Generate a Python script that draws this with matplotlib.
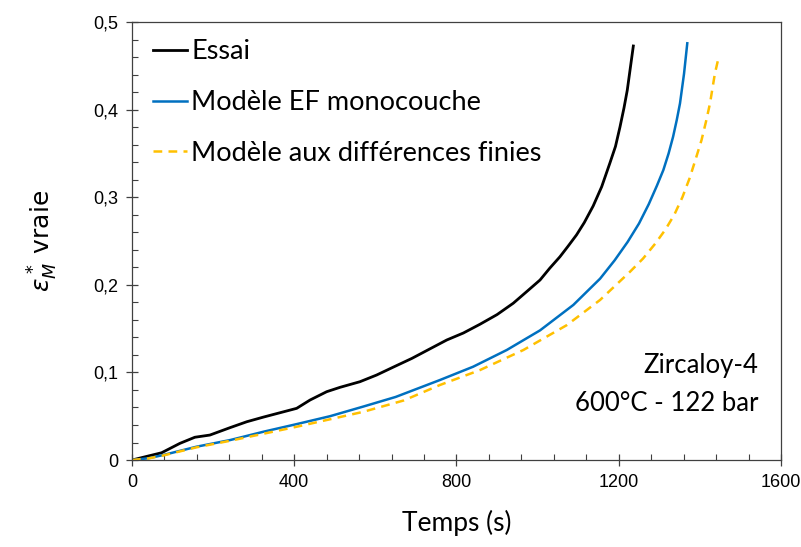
import numpy as np
import matplotlib
matplotlib.use("Agg")
import matplotlib.pyplot as plt
from matplotlib.ticker import MultipleLocator, FuncFormatter

# data (time in s, true strain)
essai_t = [0, 35, 73, 118, 155, 192, 242, 283, 324, 365, 406, 439, 480, 513, 562, 603,
           644, 690, 735, 776, 817, 858, 900, 940, 975, 1006, 1030, 1055, 1075, 1096,
           1115, 1137, 1158, 1178, 1192, 1203, 1213, 1221, 1229, 1236]
essai_eps = [0, 0.004, 0.0083, 0.019, 0.026, 0.0285, 0.037, 0.0437, 0.049, 0.054, 0.059,
             0.0685, 0.078, 0.083, 0.0894, 0.097, 0.106, 0.116, 0.127, 0.137, 0.145,
             0.155, 0.166, 0.179, 0.193, 0.2055, 0.219, 0.232, 0.244, 0.257, 0.271,
             0.290, 0.312, 0.3387, 0.358, 0.380, 0.402, 0.422, 0.449, 0.4726]

ef_t = [0, 40, 77, 159, 242, 324, 406, 488, 570, 650, 759, 841, 924, 1006, 1088, 1154,
        1190, 1222, 1250, 1274, 1294, 1310, 1323, 1334, 1343, 1351, 1361, 1369]
ef_eps = [0, 0.002, 0.0057, 0.0152, 0.0228, 0.0323, 0.041, 0.050, 0.061, 0.072, 0.0913,
          0.1065, 0.1256, 0.148, 0.177, 0.207, 0.228, 0.249, 0.270, 0.292, 0.313, 0.331,
          0.350, 0.369, 0.388, 0.407, 0.441, 0.4757]

df_t = [0, 40, 77, 159, 242, 324, 406, 488, 570, 670, 759, 858, 965, 1072, 1154, 1228,
        1260, 1290, 1315, 1337, 1357, 1375, 1390, 1404, 1415, 1425, 1437, 1447]
df_eps = [0, 0.0018, 0.0052, 0.0145, 0.022, 0.030, 0.038, 0.0465, 0.055, 0.068, 0.0856,
          0.1027, 0.1256, 0.154, 0.1827, 0.215, 0.230, 0.247, 0.263, 0.280, 0.300,
          0.322, 0.344, 0.365, 0.386, 0.407, 0.441, 0.461]

labels = ["Essai", "Modèle EF monocouche", "Modèle aux différences finies"]

fig = plt.figure(figsize=(8.01, 5.47), dpi=100)
ax = fig.add_axes([0.1648, 0.159, 0.8102, 0.8008])

ax.plot(essai_t, essai_eps, color="black", lw=2.0, label=labels[0])
ax.plot(ef_t, ef_eps, color="#0070C0", lw=1.8, label=labels[1])
ax.plot(df_t, df_eps, color="#FFC000", lw=1.8, ls=(0, (3.5, 2.5)), label=labels[2])

ax.set_xlim(0, 1600)
ax.set_ylim(0, 0.5)
ax.xaxis.set_major_locator(MultipleLocator(400))
ax.xaxis.set_minor_locator(MultipleLocator(80))
ax.yaxis.set_major_locator(MultipleLocator(0.1))
ax.yaxis.set_minor_locator(MultipleLocator(0.02))
ax.yaxis.set_major_formatter(FuncFormatter(lambda v, p: "0" if abs(v) < 1e-9 else ("%.1f" % v).replace(".", ",")))

for s in ax.spines.values():
    s.set_color("#404040")
    s.set_linewidth(0.9)
ax.tick_params(which="major", direction="inout", length=8, width=0.9, color="#404040",
               labelsize=13, pad=6)
ax.tick_params(which="minor", direction="in", length=4, width=0.8, color="#404040")
for lab in ax.get_xticklabels() + ax.get_yticklabels():
    lab.set_fontfamily("Liberation Sans")

ax.set_xlabel("Temps (s)", fontsize=19, fontfamily="Lato", labelpad=14)
ax.set_ylabel(r"$\varepsilon_M^*$ vraie", fontsize=18, fontfamily="DejaVu Sans", labelpad=24)

leg = ax.legend(loc="upper left", frameon=False, prop={"family": "Lato", "size": 19.5},
                handlelength=1.25, handletextpad=0.15, labelspacing=0.95,
                borderaxespad=0.0, bbox_to_anchor=(0.016, 0.985))

ax.text(0.965, 0.215, "Zircaloy-4", transform=ax.transAxes, ha="right", va="center",
        fontsize=18.5, fontfamily="Lato")
ax.text(0.965, 0.13, "600°C - 122 bar", transform=ax.transAxes, ha="right", va="center",
        fontsize=18.5, fontfamily="Lato")

fig.savefig("out.png", dpi=100)
